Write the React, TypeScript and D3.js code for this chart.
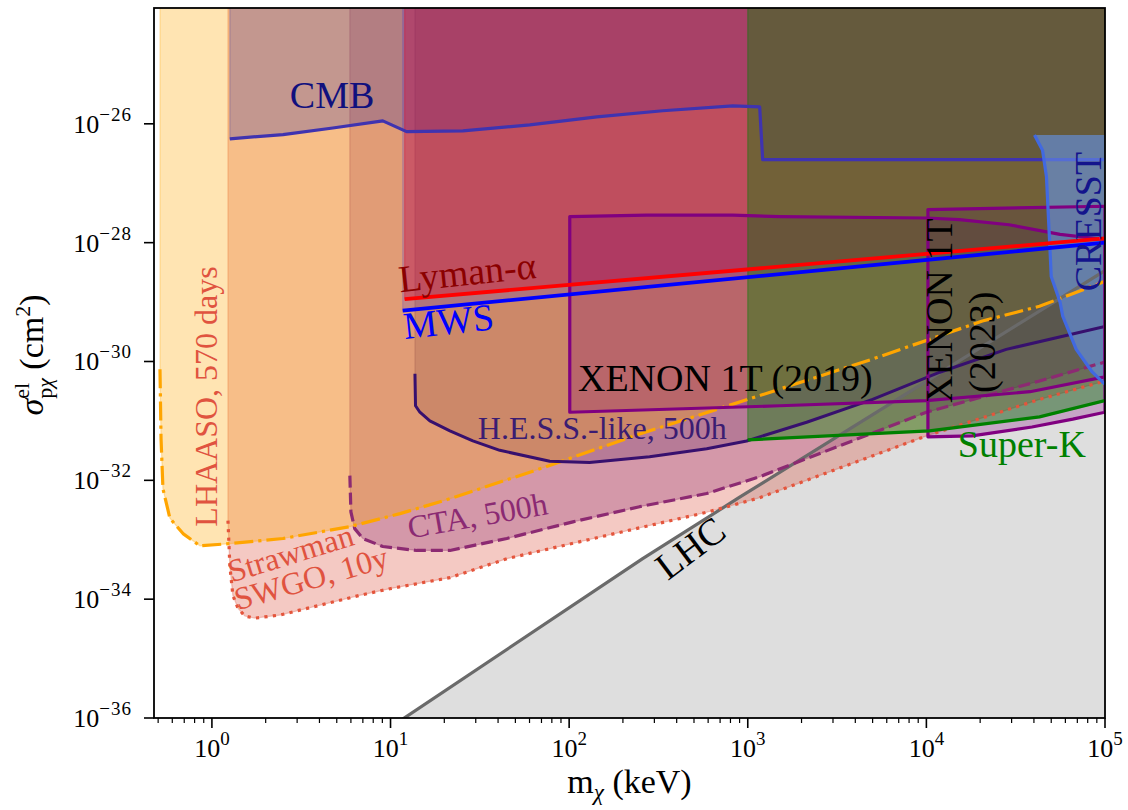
import * as d3 from "d3";

// axis ranges (keV, cm^2)
const X_DOMAIN: [number, number] = [0.474, 1e5];
const Y_DOMAIN: [number, number] = [1e-36, 8.9e-25];

const xMajor = [1, 10, 100, 1000, 1e4, 1e5];
const xMajorExp = ["0", "1", "2", "3", "4", "5"];
const yMajor = [1e-26, 1e-28, 1e-30, 1e-32, 1e-34, 1e-36];
const yMajorExp = ["−26", "−28", "−30", "−32", "−34", "−36"];

// projected sensitivities
const lhaasoX = [0.512, 0.519, 0.532, 0.582, 0.689, 0.857, 1.26, 2.5, 5.9, 11.3, 21.5, 68, 248, 1000, 5000, 2.06e4, 4.3e4, 1e5];
const lhaasoY = [7.4e-31, 5.0e-32, 7.2e-33, 2.3e-33, 1.27e-33, 7.9e-34, 8.6e-34, 1.05e-33, 1.66e-33, 2.75e-33, 4.9e-33, 1.55e-32, 6.0e-32, 2.3e-31, 1.1e-30, 4.8e-30, 8.5e-30, 2.24e-29];

const swgoX = [1.23, 1.26, 1.31, 1.4, 1.53, 1.74, 2.4, 4.02, 6.73, 9.9, 21.5, 44.8, 162, 589, 1166, 1.0e4, 4.3e4, 1e5];
const swgoY = [2.1e-33, 3.7e-34, 1.16e-34, 7.0e-35, 5.2e-35, 4.8e-35, 5.4e-35, 7.9e-35, 1.16e-34, 1.5e-34, 2.3e-34, 4.8e-34, 1.18e-33, 2.9e-33, 5.1e-33, 5.6e-32, 2.3e-31, 4.7e-31];

const ctaX = [5.92, 6.0, 6.3, 7.0, 9.05, 14.0, 21.5, 44.8, 105, 248, 589, 1166, 1.0e4, 4.3e4, 1e5];
const ctaY = [1.2e-32, 2.95e-33, 1.54e-33, 1.05e-33, 7.7e-34, 6.6e-34, 6.6e-34, 1.05e-33, 2.0e-33, 3.6e-33, 6.0e-33, 1.15e-32, 1.4e-31, 4.7e-31, 9.8e-31];

const hessX = [13.7, 13.8, 14.6, 16.6, 21.5, 28.9, 40.9, 77.9, 130, 282, 589, 986, 2137, 5000, 1.19e4, 2.8e4, 1e5];
const hessY = [6.2e-31, 1.8e-31, 1.4e-31, 1.0e-31, 6.8e-32, 4.6e-32, 3.2e-32, 2.1e-32, 2.0e-32, 2.5e-32, 3.4e-32, 4.6e-32, 9.5e-32, 2.3e-31, 6.6e-31, 1.6e-30, 3.9e-30];

// existing bounds
const cmbX = [1.26, 2.5, 4.75, 9.05, 12.3, 25.4, 60.2, 143, 334, 824, 1166, 1212, 1e5];
const cmbY = [5.6e-27, 6.6e-27, 8.5e-27, 1.12e-26, 7.4e-27, 7.6e-27, 9.6e-27, 1.31e-26, 1.66e-26, 2.0e-26, 1.93e-26, 2.5e-27, 2.5e-27];

const lymanX = [12.0, 1e5];
const lymanY = [1.12e-29, 1.18e-28];
const mwsX = [11.7, 1e5];
const mwsY = [7.2e-30, 1.0e-28];

const superkX = [1000, 1.04e4, 4.3e4, 1e5];
const superkY = [4.8e-32, 6.8e-32, 1.17e-31, 2.2e-31];

const xenon19X = [100.8, 272, 824, 1508, 1.0e4, 1.53e4, 2.9e4, 5.6e4, 1e5, 1e5, 3.8e4, 1.0e4, 1508, 100.8];
const xenon19Y = [2.75e-28, 2.9e-28, 2.9e-28, 2.75e-28, 2.6e-28, 2.45e-28, 2.0e-28, 1.38e-28, 1.13e-28, 5.5e-31, 3.1e-31, 2.2e-31, 1.8e-31, 1.4e-31];

const xenon23X = [1.02e4, 1e5, 1e5, 6.6e4, 3.9e4, 1.8e4, 1.02e4];
const xenon23Y = [3.6e-28, 4.1e-28, 1.4e-31, 1.07e-31, 7.9e-32, 5.6e-32, 5.4e-32];

const cresstX = [4.03e4, 4.47e4, 4.7e4, 4.9e4, 5.0e4, 5.6e4, 5.8e4, 6.9e4, 8.5e4, 9.7e4, 1e5];
const cresstY = [6.5e-27, 3.6e-27, 1.3e-27, 1.0e-28, 2.7e-29, 1.0e-29, 5.8e-30, 1.6e-30, 6.6e-31, 4.5e-31, 4.2e-31];

const lhcX = [10, 258, 901, 1e5];
const lhcY = [7e-37, 4.8e-34, 5.2e-33, 3.4e-29];

// text labels, anchored in data units
const labels = [
  { text: "CMB", x: 2.73, y: 1.85e-26, angle: 0, color: "#10107e", size: 38 },
  { text: "Lyman-α", x: 11.3, y: 1.46e-29, angle: -6, color: "#8b0000", size: 38 },
  { text: "MWS", x: 12.0, y: 2.4e-30, angle: -6, color: "#0000ff", size: 38 },
  { text: "XENON 1T (2019)", x: 112, y: 3.2e-31, angle: 0, color: "#000000", size: 38 },
  { text: "H.E.S.S.-like, 500h", x: 30.8, y: 5.0e-32, angle: 0, color: "#3b1c72", size: 32 },
  { text: "CTA, 500h", x: 12.8, y: 1.05e-33, angle: -10, color: "#8b2a73", size: 32 },
  { text: "Strawman", x: 1.29, y: 1.9e-34, angle: -17, color: "#e0533f", size: 32 },
  { text: "SWGO, 10y", x: 1.4, y: 6.5e-35, angle: -16, color: "#e0533f", size: 32 },
  { text: "LHAASO, 570 days", x: 1.07, y: 1.66e-33, angle: -90, color: "#e0533f", size: 32 },
  { text: "XENON 1T", x: 1.4e4, y: 2.0e-31, angle: -90, color: "#000000", size: 38 },
  { text: "(2023)", x: 2.41e4, y: 2.95e-31, angle: -90, color: "#000000", size: 38 },
  { text: "CRESST", x: 9.55e4, y: 1.52e-29, angle: -90, color: "#14148c", size: 38 },
  { text: "Super-K", x: 1.5e4, y: 2.5e-32, angle: 0, color: "#008000", size: 38 },
  { text: "LHC", x: 356, y: 2.0e-34, angle: -37, color: "#000000", size: 38 },
];

const FONT = "'Liberation Serif', 'Times New Roman', serif";

export default function App() {
  const width = 1128;
  const height = 810;
  const margin = { top: 8, right: 23, bottom: 92, left: 154 };

  const x = d3.scaleLog().domain(X_DOMAIN).range([margin.left, width - margin.right]);
  const y = d3.scaleLog().domain(Y_DOMAIN).range([height - margin.bottom, margin.top]);

  const line = d3
    .line<number[]>()
    .x((d) => x(d[0]))
    .y((d) => y(d[1]));

  const pts = (xs: number[], ys: number[]) => xs.map((v, i) => [v, ys[i]]);
  const yTop = 1e-22;
  const yBottom = 1e-38;
  const above = (p: number[][]) => line([...p, [p[p.length - 1][0], yTop], [p[0][0], yTop]]) + "Z";
  const below = (p: number[][]) => line([...p, [p[p.length - 1][0], yBottom], [p[0][0], yBottom]]) + "Z";
  const closed = (p: number[][]) => line(p) + "Z";

  const lhaaso = pts(lhaasoX, lhaasoY);
  const swgo = pts(swgoX, swgoY);
  const cta = pts(ctaX, ctaY);
  const hess = pts(hessX, hessY);
  const cmb = pts(cmbX, cmbY);
  const lyman = pts(lymanX, lymanY);
  const mws = pts(mwsX, mwsY);
  const superk = pts(superkX, superkY);
  const xenon19 = pts(xenon19X, xenon19Y);
  const xenon23 = pts(xenon23X, xenon23Y);
  const cresst = pts(cresstX, cresstY);
  const lhc = pts(lhcX, lhcY);

  const cresstFill = line([...cresst, [cresst[cresst.length - 1][0] * 1.5, cresst[cresst.length - 1][1]], [1.5e5, cresst[0][1]]]) + "Z";

  const fills = [
    { d: below(lhc), color: "#dedede", op: 1 },
    { d: above(swgo), color: "rgb(220,75,55)", op: 0.3 },
    { d: above(cta), color: "rgb(140,40,110)", op: 0.3 },
    { d: above(hess), color: "rgb(70,10,80)", op: 0.2 },
    { d: above(lhaaso), color: "rgb(255,165,0)", op: 0.3 },
    { d: above(cmb), color: "rgb(60,50,160)", op: 0.28 },
    { d: above(lyman), color: "rgb(255,0,0)", op: 0.33 },
    { d: above(mws), color: "rgb(0,0,255)", op: 0.135 },
    { d: closed(xenon19), color: "rgb(128,0,110)", op: 0.25 },
    { d: closed(xenon23), color: "rgb(128,0,128)", op: 0.25 },
    { d: above(superk), color: "rgb(0,128,0)", op: 0.4 },
  ];

  const lines = [
    { d: line(lhc), color: "#6a6a6a", w: 3.2, dash: "" },
    { d: line(swgo), color: "#e4553c", w: 3.2, dash: "3.2 5.3" },
    { d: line(cta), color: "#8c2a72", w: 3.2, dash: "12 5" },
    { d: line(lhaaso), color: "#ffa500", w: 3.2, dash: "19 5 3.2 5" },
    { d: line(hess), color: "#37106e", w: 3, dash: "" },
    { d: closed(xenon19), color: "#800080", w: 3.2, dash: "" },
    { d: closed(xenon23), color: "#800080", w: 3.2, dash: "" },
    { d: line(superk), color: "#008000", w: 3.2, dash: "" },
    { d: line(cresst), color: "#4169e1", w: 3.2, dash: "" },
    { d: line(lyman), color: "#ff0000", w: 3.8, dash: "" },
    { d: line(mws), color: "#0000ff", w: 3.8, dash: "" },
  ];

  const xMinor: number[] = [];
  for (let dec = 0.1; dec < 1e5; dec *= 10) {
    for (let k = 2; k <= 9; k++) {
      const v = k * dec;
      if (v >= X_DOMAIN[0] && v <= X_DOMAIN[1]) xMinor.push(v);
    }
  }

  const plotW = width - margin.left - margin.right;
  const plotH = height - margin.top - margin.bottom;
  const bottomY = height - margin.bottom;

  return (
    <svg
      width={width}
      height={height}
      style={{ position: "absolute", left: 0, top: 0, background: "#fff" }}
      fontFamily={FONT}
    >
      <defs>
        <clipPath id="plot-area">
          <rect x={margin.left} y={margin.top} width={plotW} height={plotH} />
        </clipPath>
      </defs>

      <g clipPath="url(#plot-area)">
        {fills.map((f, i) => (
          <path
            key={"f" + i}
            d={f.d}
            fill={f.color}
            fillOpacity={f.op}
            stroke={f.op < 1 ? f.color : "none"}
            strokeOpacity={f.op}
            strokeWidth={1.2}
          />
        ))}
        <path d={line(cmb) || ""} fill="none" stroke="#3f33b0" strokeWidth={3.2} strokeLinejoin="round" />
        <path d={cresstFill} fill="rgb(100,149,237)" fillOpacity={0.6} />
        {lines.map((l, i) => (
          <path
            key={"l" + i}
            d={l.d || ""}
            fill="none"
            stroke={l.color}
            strokeWidth={l.w}
            strokeDasharray={l.dash || undefined}
            strokeLinejoin="round"
          />
        ))}
      </g>

      {labels.map((a) => (
        <text
          key={a.text}
          transform={`translate(${x(a.x)},${y(a.y)}) rotate(${a.angle})`}
          fill={a.color}
          fontSize={a.size}
        >
          {a.text}
        </text>
      ))}

      {/* frame */}
      <rect x={margin.left} y={margin.top} width={plotW} height={plotH} fill="none" stroke="#000" strokeWidth={1.8} />

      {/* x ticks */}
      {xMajor.map((v, i) => (
        <g key={"xt" + i}>
          <line x1={x(v)} x2={x(v)} y1={bottomY} y2={bottomY + 10} stroke="#000" strokeWidth={1.6} />
          <text x={x(v)} y={757} textAnchor="middle" fontSize={26} fill="#000">
            10
            <tspan dy={-12} fontSize={19}>
              {xMajorExp[i]}
            </tspan>
          </text>
        </g>
      ))}
      {xMinor.map((v, i) => (
        <line key={"xm" + i} x1={x(v)} x2={x(v)} y1={bottomY} y2={bottomY + 5} stroke="#000" strokeWidth={1.2} />
      ))}

      {/* y ticks */}
      {yMajor.map((v, i) => (
        <g key={"yt" + i}>
          <line x1={margin.left - 10} x2={margin.left} y1={y(v)} y2={y(v)} stroke="#000" strokeWidth={1.6} />
          <text x={132} y={y(v) + 9} textAnchor="end" fontSize={26} fill="#000">
            10
            <tspan dy={-12} fontSize={19} letterSpacing={1}>
              {yMajorExp[i]}
            </tspan>
          </text>
        </g>
      ))}

      {/* axis titles */}
      <text x={margin.left + plotW / 2} y={793} textAnchor="middle" fontSize={34} fill="#000">
        m
        <tspan dy={7} fontSize={23} fontStyle="italic">
          χ
        </tspan>
        <tspan dy={-7}> (keV)</tspan>
      </text>
      <text transform={`translate(43,355) rotate(-90)`} textAnchor="middle" fontSize={34} fill="#000">
        <tspan fontStyle="italic">σ</tspan>
        <tspan dy={-14} fontSize={22}>
          el
        </tspan>
        <tspan dx={-16} dy={23} fontSize={22}>
          p
        </tspan>
        <tspan fontSize={22} fontStyle="italic">
          χ
        </tspan>
        <tspan dy={-9}> (cm</tspan>
        <tspan dy={-13} fontSize={22}>
          2
        </tspan>
        <tspan dy={13}>)</tspan>
      </text>
    </svg>
  );
}
